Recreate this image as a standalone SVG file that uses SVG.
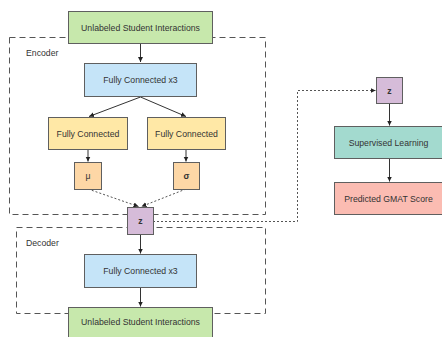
<svg xmlns="http://www.w3.org/2000/svg" width="442" height="337" viewBox="0 0 442 337">
<defs>
<style>
.box{stroke:#5f5f5f;stroke-width:1}
.t{font-family:"Liberation Sans",Arial,sans-serif;font-size:8.7px;fill:#333;text-anchor:middle;dominant-baseline:central}
.lbl{font-family:"Liberation Sans",Arial,sans-serif;font-size:8.7px;fill:#333}
.g{fill:#c7e8ac}.b{fill:#c5e4f8}.y{fill:#ffe8a6}.o{fill:#fdd7a6}.p{fill:#d6bcd9}.tl{fill:#a3dacf}.pk{fill:#fbbcb2}
.frame{fill:none;stroke:#555;stroke-width:1;stroke-dasharray:6,4}
.c{fill:none;stroke:#333;stroke-width:1}
.d{fill:none;stroke:#555;stroke-width:1;stroke-dasharray:2,2}
</style>
<marker id="a" markerWidth="6" markerHeight="6" refX="5" refY="3" orient="auto" markerUnits="userSpaceOnUse">
<path d="M0,0.5 L5,3 L0,5.5 Z" fill="#222"/>
</marker>
</defs>
<rect width="442" height="337" fill="#fff"/>
<g id="encoder">
<rect class="frame" x="9.5" y="37.5" width="256" height="177"/>
<text class="lbl" x="26" y="56">Encoder</text>
</g>
<g id="decoder">
<rect class="frame" x="16.5" y="227.5" width="249" height="86"/>
<text class="lbl" x="26" y="246">Decoder</text>
</g>
<g id="connectors">
<path class="c" d="M140.5,43 V62" marker-end="url(#a)"/>
<path class="c" d="M140.5,97 L89,116.5" marker-end="url(#a)"/>
<path class="c" d="M140.5,97 L186,116.5" marker-end="url(#a)"/>
<path class="c" d="M88,149 V161.5" marker-end="url(#a)"/>
<path class="c" d="M186,149 V161.5" marker-end="url(#a)"/>
<path class="d" d="M88,189 L138.5,206.5" marker-end="url(#a)"/>
<path class="d" d="M186,189 L141.5,206.5" marker-end="url(#a)"/>
<path class="c" d="M140.5,234 V253.5" marker-end="url(#a)"/>
<path class="c" d="M140.5,287 V306.5" marker-end="url(#a)"/>
<path class="d" d="M153,221.5 H297.5 V90.5 H375.5" marker-end="url(#a)"/>
<path class="c" d="M389.5,103 V125.5" marker-end="url(#a)"/>
<path class="c" d="M389.5,158 V181.5" marker-end="url(#a)"/>
</g>
<g id="input">
<rect class="box g" x="68.5" y="11.5" width="144" height="32"/>
<text class="t" x="140.5" y="27.5">Unlabeled Student Interactions</text>
</g>
<g id="enc-fc3">
<rect class="box b" x="84.5" y="63.5" width="112" height="33"/>
<text class="t" x="140.5" y="80">Fully Connected x3</text>
</g>
<g id="fc-mu">
<rect class="box y" x="48.5" y="117.5" width="79" height="32"/>
<text class="t" x="88" y="133.5">Fully Connected</text>
</g>
<g id="fc-sigma">
<rect class="box y" x="147.5" y="117.5" width="78" height="32"/>
<text class="t" x="186.5" y="133.5">Fully Connected</text>
</g>
<g id="mu">
<rect class="box o" x="74.5" y="162.5" width="27" height="27"/>
<text class="t" x="88" y="176">μ</text>
</g>
<g id="sigma">
<rect class="box o" x="173.5" y="162.5" width="26" height="27"/>
<text class="t" x="186.5" y="176" font-weight="bold">σ</text>
</g>
<g id="z">
<rect class="box p" x="127.5" y="207.5" width="26" height="27"/>
<text class="t" x="140.5" y="221" font-weight="bold">z</text>
</g>
<g id="dec-fc3">
<rect class="box b" x="84.5" y="254.5" width="112" height="33"/>
<text class="t" x="140.5" y="271">Fully Connected x3</text>
</g>
<g id="output">
<rect class="box g" x="68.5" y="307.5" width="144" height="32"/>
<text class="t" x="140.5" y="321.5">Unlabeled Student Interactions</text>
</g>
<g id="z2">
<rect class="box p" x="376.5" y="77.5" width="26" height="26"/>
<text class="t" x="389.5" y="90.5" font-weight="bold">z</text>
</g>
<g id="supervised">
<rect class="box tl" x="334.5" y="126.5" width="108" height="32"/>
<text class="t" x="388.5" y="142.5">Supervised Learning</text>
</g>
<g id="predicted">
<rect class="box pk" x="334.5" y="182.5" width="108" height="32"/>
<text class="t" x="388.5" y="198.5">Predicted GMAT Score</text>
</g>
</svg>
